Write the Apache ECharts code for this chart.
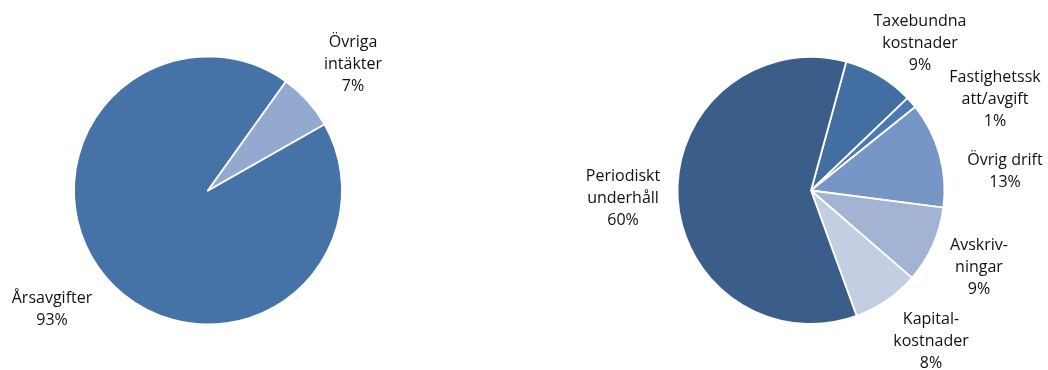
<!DOCTYPE html>
<html>
<head>
<meta charset="utf-8">
<script src="https://cdn.jsdelivr.net/npm/echarts@6/dist/echarts.min.js"></script>
<style>
html,body{margin:0;padding:0;background:#fff;}
#chart{width:1048px;height:370px;}
</style>
</head>
<body>
<div id="chart"></div>
<script>
// Data
const incomeNames = ['Årsavgifter', 'Övriga\nintäkter'];
const incomeValues = [93.1, 6.9];
const costNames = ['Taxebundna\nkostnader', 'Fastighetssk\natt/avgift', 'Övrig drift', 'Avskriv-\nningar', 'Kapital-\nkostnader', 'Periodiskt\nunderhåll'];
const costValues = [8.6, 1.4, 12.8, 9.3, 8.1, 59.8];

// Styling
const incomeColors = ['#4573a7', '#94a9cf'];
const costColors = ['#436ea2', '#4a79b6', '#7596c6', '#a2b3d4', '#c3cee3', '#3a5d8a'];
const incomeLabelPos = [[52, 309], [353, 64]];
const costLabelPos = [[920, 43], [995, 99], [1005, 171], [979, 267], [931, 341], [623, 198]];

const chart = echarts.init(document.getElementById('chart'), null, {renderer: 'canvas'});

function mk(names, values, colors) {
  return names.map((n, i) => ({name: n, value: values[i], itemStyle: {color: colors[i]}}));
}

const labelStyle = {
  show: true,
  position: 'outside',
  fontFamily: 'Open Sans',
  fontSize: 16,
  lineHeight: 22,
  color: '#111',
  align: 'center',
  overflow: 'none',
  bleedMargin: 0,
  formatter: p => p.name + '\n' + Math.round(p.value) + '%'
};

chart.setOption({
  animation: false,
  series: [
    {
      type: 'pie',
      center: [208, 190.5],
      radius: 134,
      startAngle: 29.6,
      clockwise: true,
      data: mk(incomeNames, incomeValues, incomeColors),
      itemStyle: {borderColor: '#fff', borderWidth: 1.8},
      label: labelStyle,
      labelLine: {show: false},
      labelLayout: p => ({x: incomeLabelPos[p.dataIndex][0], y: incomeLabelPos[p.dataIndex][1], align: 'center', verticalAlign: 'middle'})
    },
    {
      type: 'pie',
      center: [811, 190.5],
      radius: 133.5,
      startAngle: 74.7,
      clockwise: true,
      data: mk(costNames, costValues, costColors),
      itemStyle: {borderColor: '#fff', borderWidth: 1.8},
      label: labelStyle,
      labelLine: {show: false},
      labelLayout: p => ({x: costLabelPos[p.dataIndex][0], y: costLabelPos[p.dataIndex][1], align: 'center', verticalAlign: 'middle'})
    }
  ]
});
</script>
</body>
</html>
